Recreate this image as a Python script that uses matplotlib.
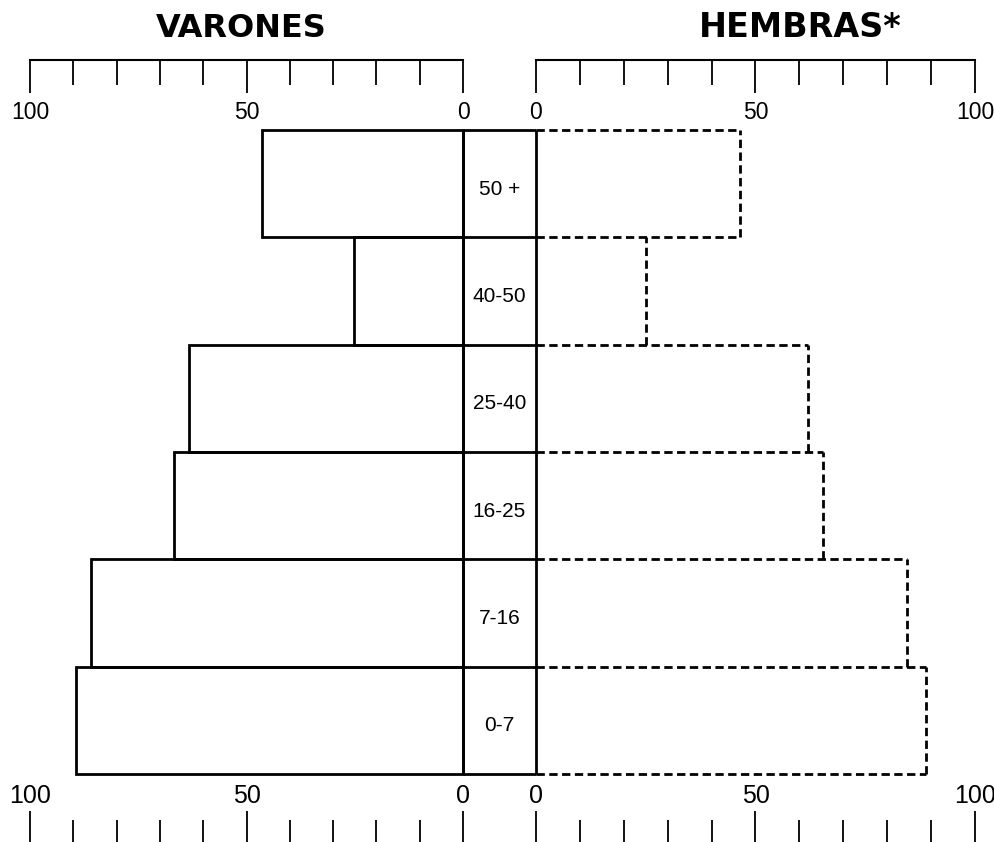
import matplotlib
matplotlib.use('Agg')
import matplotlib.pyplot as plt
import numpy as np

plt.rcParams['font.family'] = ['Liberation Sans', 'DejaVu Sans']

# grupos de edad, de abajo hacia arriba
edades = ['0-7', '7-16', '16-25', '25-40', '40-50', '50 +']
varones = [89.4, 86.0, 66.7, 63.3, 25.2, 46.5]
hembras = [88.8, 84.4, 65.3, 62.0, 25.1, 46.5]

escala = [0, 50, 100]
escala_menor = [10, 20, 30, 40, 60, 70, 80, 90]

W, H = 995, 842
fig = plt.figure(figsize=(W / 100, H / 100), dpi=100)

# barras entre y=130 y y=774 (pixeles desde arriba)
top_bar, bot_bar = 130, 774
alto = bot_bar - top_bar


def px_axes(x0, x1):
    return fig.add_axes([x0 / W, 1 - bot_bar / H, (x1 - x0) / W, alto / H])


def rel(ypix):
    # posicion vertical en coordenadas de ejes
    return (bot_bar - ypix) / alto


axL = px_axes(30, 463)
axC = px_axes(463, 536)
axR = px_axes(536, 975)

LW = 2.0
DASH = (0, (3, 1.6))
n = len(edades)
y = np.arange(n)

axL.barh(y, varones, height=1, align='edge', fill=False, edgecolor='black',
         linewidth=LW, clip_on=False)

# hembras: contorno discontinuo, cada linea empieza en 0 para que los trazos coincidan
h = np.array(hembras)
axR.barh(y, h, height=1, align='edge', fill=False, linewidth=0)
borde = np.maximum(np.r_[0, h], np.r_[h, 0])
axR.hlines(np.arange(n + 1), 0, borde, colors='black', linewidth=LW,
           linestyles=[DASH], clip_on=False)
axR.vlines(h, y, y + 1, colors='black', linewidth=LW, linestyles=[DASH],
           clip_on=False)

axL.set_xlim(100, 0)
axR.set_xlim(0, 100)

for ax in (axL, axC, axR):
    ax.set_ylim(0, n)
    ax.set_facecolor('none')
    for s in ax.spines.values():
        s.set_visible(False)
    ax.set_yticks([])
    ax.set_xticks([])

# franja central con las edades
axC.set_xlim(0, 1)
axC.hlines(np.arange(n + 1), 0, 1, colors='black', linewidth=LW, clip_on=False)
axC.vlines([0, 1], 0, n, colors='black', linewidth=LW, clip_on=False)
for i, e in enumerate(edades):
    axC.text(0.5, i + 0.45, e, ha='center', va='center', fontsize=15)


def escalas(ax):
    # linea superior con marcas hacia abajo
    linea = ax.secondary_xaxis(rel(60))
    linea.set_xticks(escala)
    linea.set_xticks(escala_menor, minor=True)
    linea.tick_params(which='both', direction='in', labeltop=False,
                      labelbottom=False, width=1.3)
    linea.tick_params(which='major', length=24)
    linea.tick_params(which='minor', length=18)
    linea.spines['top'].set_linewidth(1.5)

    nums = ax.secondary_xaxis(rel(124))
    nums.set_xticks(escala)
    nums.tick_params(length=0, pad=0, labelsize=16.5)
    for s in nums.spines.values():
        s.set_visible(False)

    # abajo: numeros y marcas sin linea
    nums_b = ax.secondary_xaxis(rel(784))
    nums_b.set_xticks(escala)
    nums_b.tick_params(length=0, pad=0, labelsize=18)
    for s in nums_b.spines.values():
        s.set_visible(False)

    marcas = ax.secondary_xaxis(rel(848))
    marcas.set_xticks(escala)
    marcas.set_xticks(escala_menor, minor=True)
    marcas.tick_params(which='both', direction='in', labelbottom=False,
                       labeltop=False, width=1.3)
    marcas.tick_params(which='major', length=27)
    marcas.tick_params(which='minor', length=20)
    for s in marcas.spines.values():
        s.set_visible(False)


escalas(axL)
escalas(axR)

fig.text(241 / W, 1 - 37 / H, 'VARONES', fontsize=23, fontweight='bold',
         family='DejaVu Sans', ha='center', va='baseline')
fig.text(800 / W, 1 - 37 / H, 'HEMBRAS*', fontsize=24, fontweight='bold',
         family='DejaVu Sans', ha='center', va='baseline')

fig.savefig('out.png', dpi=100)
